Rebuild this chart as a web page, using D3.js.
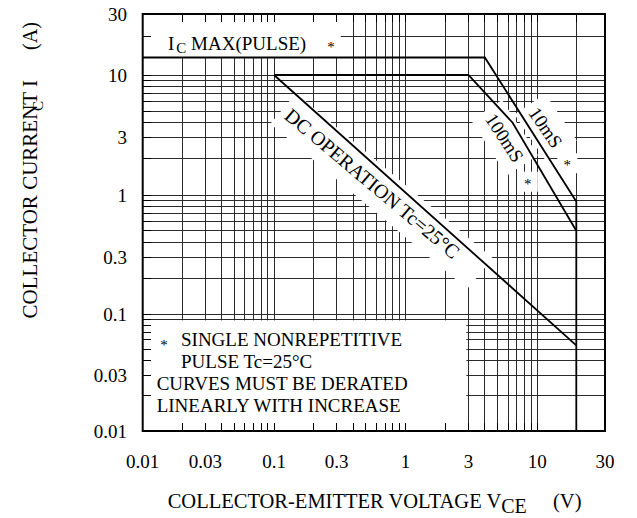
<!DOCTYPE html>
<html><head><meta charset="utf-8">
<script src="https://cdn.jsdelivr.net/npm/d3@7"></script>
<style>
body{margin:0;background:#fff}
svg{display:block}
text{font-family:"Liberation Serif","Times New Roman",serif;fill:#000}
</style>
</head><body>
<svg id="c" width="637" height="518"></svg>
<script>
// ---------------- data ----------------
const xTickLabels = ["0.01","0.03","0.1","0.3","1","3","10","30"];
const yTickLabels = ["0.01","0.03","0.1","0.3","1","3","10","30"];
const gridDecades = [0.01, 0.1, 1, 10];
const gridMultipliers = [1,2,3,4,5,6,7,8,9];

// 10 ms (pulse) curve incl. Ic max(pulse) and Vceo limit
const p10V = [0.01, 4, 20, 20];
const p10I = [13.7, 13.7, 0.88, 0.01];
// 100 ms curve
const p100V = [0.1, 3, 6.5, 20];
const p100I = [10, 10, 4, 0.5];
// DC operation
const dcV = [0.1, 20];
const dcI = [10, 0.054];

// annotations (data coordinates)
const rotLabels = [
  {text:"DC OPERATION Tc=25°C", v:0.56, i:1.25, angle:40, size:20, pad:[6,30,9,9]},
  {text:"100mS", v:5.64, i:3.0, angle:57, size:19, pad:[6,6,8,8]},
  {text:"10mS",  v:11.6, i:3.65, angle:56, size:19, pad:[6,6,8,8]}
];
const stars = [
  {v:17.05, i:1.84},
  {v:8.47,  i:1.29}
];
const legendLines = ["SINGLE NONREPETITIVE","PULSE Tc=25°C","CURVES MUST BE DERATED","LINEARLY WITH INCREASE"];

// ---------------- scales ----------------
const x = d3.scaleLog().domain([0.01,0.1,1,10,20,30]).range([142.7,274,405.5,537.3,576.3,605]);
const y = d3.scaleLog().domain([0.01,0.1,1,10,30]).range([431,314,195,75,14]);
const X0 = x(0.01), X1 = x(30), Y0 = y(0.01), Y1 = y(30);

const gridVals = [];
gridDecades.forEach(d => gridMultipliers.forEach(k => {
  const v = +(k*d).toPrecision(3);
  if (v <= 30) gridVals.push(v);
}));

const svg = d3.select("#c");
const gGrid = svg.append("g");
const gMask = svg.append("g");
const gTicks = svg.append("g");
const gCurves = svg.append("g");
const gText = svg.append("g");

// grid
gGrid.selectAll("line.v").data(gridVals).join("line")
  .attr("x1", d=>x(d)).attr("x2", d=>x(d)).attr("y1", Y1).attr("y2", Y0)
  .attr("stroke", "#2a2a2a").attr("stroke-width", 1).attr("shape-rendering","crispEdges");
gGrid.selectAll("line.h").data(gridVals).join("line")
  .attr("y1", d=>y(d)).attr("y2", d=>y(d)).attr("x1", X0).attr("x2", X1)
  .attr("stroke", "#2a2a2a").attr("stroke-width", 1).attr("shape-rendering","crispEdges");

const TL = 8; // inner tick length

// Ic max label
const icLabel = gText.append("text").attr("x", 168).attr("y", 50).attr("font-size", 19);
icLabel.append("tspan").text("I");
icLabel.append("tspan").attr("font-size", 15).attr("dx", 2).attr("dy", 3).text("C");
icLabel.append("tspan").attr("dy", -3).text(" MAX(PULSE)");
const icStar = gText.append("text").attr("x", 331).attr("y", 52).attr("font-size", 15)
  .attr("text-anchor","middle").text("*");
const sb = icStar.node().getBBox();
gMask.append("rect").attr("x", X0).attr("y", Y1 + TL)
  .attr("width", sb.x + sb.width + 6 - X0).attr("height", y(p10I[0]) - (Y1 + TL))
  .attr("fill", "#fff");

// legend box mask
gMask.append("rect").attr("x", X0).attr("y", y(0.09) + 1)
  .attr("width", x(3) - 2 - X0).attr("height", Y0 - y(0.09) - 1).attr("fill", "#fff");

// legend text
const lg = [{t:legendLines[0], x:181, y:346.3},{t:legendLines[1], x:181, y:368},
            {t:legendLines[2], x:156.7, y:390.3},{t:legendLines[3], x:156.7, y:412}];
gText.selectAll("text.lg").data(lg).join("text").attr("class","lg")
  .attr("x", d=>d.x).attr("y", d=>d.y).attr("font-size", 19).text(d=>d.t);
gText.append("text").attr("x", 164).attr("y", 350).attr("font-size", 15)
  .attr("text-anchor","middle").text("*");

// rotated labels with white backing
rotLabels.forEach(L => {
  const tr = `translate(${x(L.v)},${y(L.i)}) rotate(${L.angle})`;
  const t = gText.append("text").attr("transform", tr).attr("font-size", L.size)
    .attr("text-anchor","middle").attr("dominant-baseline","central").text(L.text);
  const b = t.node().getBBox();
  gMask.append("rect").attr("transform", tr)
    .attr("x", b.x - L.pad[0]).attr("y", b.y - L.pad[2])
    .attr("width", b.width + L.pad[0] + L.pad[1]).attr("height", b.height + L.pad[2] + L.pad[3])
    .attr("fill", "#fff");
});
stars.forEach(s => {
  gMask.append("rect").attr("x", x(s.v) - 10).attr("y", y(s.i) - 10)
    .attr("width", 20).attr("height", 20).attr("fill", "#fff");
  gText.append("text").attr("x", x(s.v)).attr("y", y(s.i) + 7).attr("font-size", 15)
    .attr("text-anchor","middle").text("*");
});

// inner ticks
gTicks.selectAll("line.tl").data(gridVals).join("line")
  .attr("x1", X0).attr("x2", X0 + TL).attr("y1", d=>y(d)).attr("y2", d=>y(d))
  .attr("stroke", "#000").attr("stroke-width", 1).attr("shape-rendering","crispEdges");
gTicks.selectAll("line.tt").data(gridVals).join("line")
  .attr("y1", Y1).attr("y2", Y1 + TL).attr("x1", d=>x(d)).attr("x2", d=>x(d))
  .attr("stroke", "#000").attr("stroke-width", 1).attr("shape-rendering","crispEdges");
gTicks.selectAll("line.tb").data(gridVals).join("line")
  .attr("y1", Y0).attr("y2", Y0 - TL).attr("x1", d=>x(d)).attr("x2", d=>x(d))
  .attr("stroke", "#000").attr("stroke-width", 1).attr("shape-rendering","crispEdges");

// curves
const line = d3.line().x(d=>x(d[0])).y(d=>y(d[1]));
[[p10V,p10I],[p100V,p100I],[dcV,dcI]].forEach(([V,I]) => {
  gCurves.append("path").attr("d", line(V.map((v,k)=>[v,I[k]])))
    .attr("fill","none").attr("stroke","#000").attr("stroke-width",1.8);
});

// frame
svg.append("rect").attr("x", X0).attr("y", Y1).attr("width", X1 - X0).attr("height", Y0 - Y1)
  .attr("fill","none").attr("stroke","#000").attr("stroke-width",2);

// tick labels
const tickVal = s => +s;
svg.append("g").selectAll("text").data(xTickLabels).join("text")
  .attr("x", d=>x(tickVal(d))).attr("y", 468).attr("font-size", 19)
  .attr("text-anchor","middle").text(d=>d);
svg.append("g").selectAll("text").data(yTickLabels).join("text")
  .attr("x", 127).attr("y", d=>y(tickVal(d))).attr("font-size", 19)
  .attr("text-anchor","end").attr("dominant-baseline","central").text(d=>d);

// axis titles
const xt = svg.append("text").attr("x", 167.7).attr("y", 508).attr("font-size", 20.5);
xt.append("tspan").text("COLLECTOR-EMITTER VOLTAGE V");
xt.append("tspan").attr("font-size", 20).attr("dy", 5).text("CE");
svg.append("text").attr("x", 553).attr("y", 508).attr("font-size", 20.5).text("(V)");

svg.append("text").attr("transform","translate(37,80) rotate(-90)").attr("font-size", 21)
  .attr("text-anchor","end").text("COLLECTOR CURRENT I");
svg.append("text").attr("transform","translate(43,106) rotate(-90)").attr("font-size", 15)
  .attr("text-anchor","middle").text("C");
svg.append("text").attr("transform","translate(37,36) rotate(-90)").attr("font-size", 20)
  .attr("text-anchor","middle").text("(A)");
</script>
</body></html>
